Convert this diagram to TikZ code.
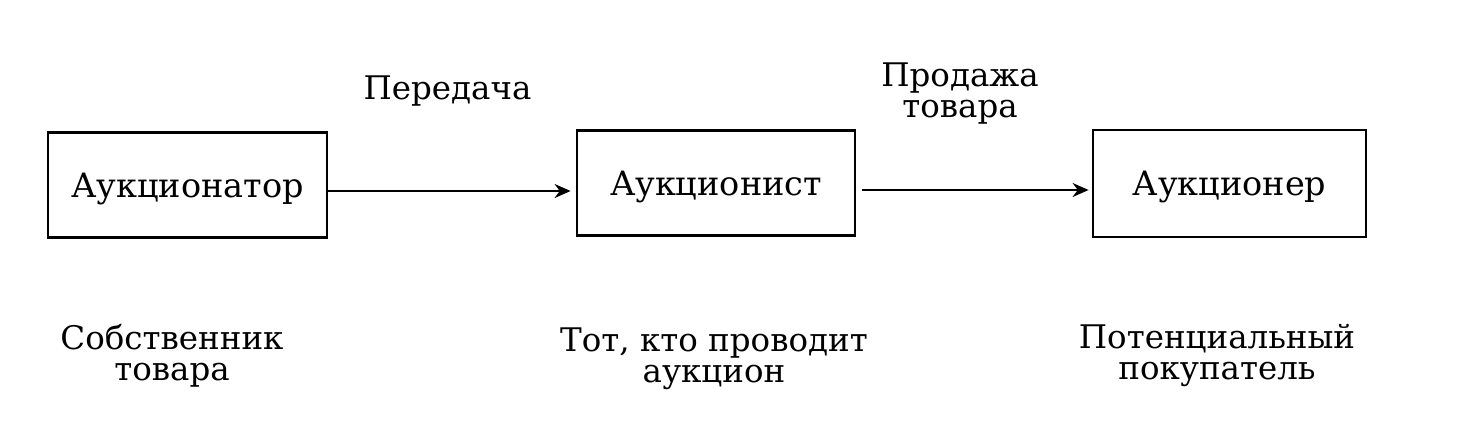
\documentclass[tikz,border=0pt]{standalone}
\usepackage{fontspec}
\setmainfont{DejaVu Serif}
\usetikzlibrary{arrows.meta,calc}
\begin{document}
\begin{tikzpicture}[x=1pt,y=1pt,
  box/.style={draw, line width=2.8pt, inner sep=0pt, font=\fontsize{33.5}{31}\selectfont, text height=24pt, text depth=0pt},
  lbl/.style={align=center, inner sep=0pt, font=\fontsize{32.5}{30.5}\selectfont, anchor=base},
  arr/.style={line width=2pt, -{Stealth[length=16pt,width=14pt]}}]
\useasboundingbox (0,0) rectangle (1472,424);
\node[box, minimum width=279pt, minimum height=105.5pt] (b1) at (187.5,239) {Аукционатор};
\node[box, minimum width=278pt, minimum height=105.5pt] (b2) at (716,241) {Аукционист};
\node[box, minimum width=273pt, minimum height=107pt] (b3) at (1229.5,240.5) {Аукционер};
\draw[arr] ($(b1.east)+(0,-6)$) -- ($(b1.east -| b2.west)+(-5,-6)$);
\draw[arr] ($(b2.east)+(6,-7)$) -- ($(b2.east -| b3.west)+(-3,-7)$);
\node[lbl] (t1) at (447.5,324) {Передача};
\node[lbl] (t2) at (960,307) {Продажа\\товара};
\node[lbl] (d1) at (172,44) {Собственник\\товара};
\node[lbl] (d2) at (714,42) {Тот, кто проводит\\аукцион};
\node[lbl] (d3) at (1217,45) {Потенциальный\\покупатель};
\end{tikzpicture}
\end{document}
